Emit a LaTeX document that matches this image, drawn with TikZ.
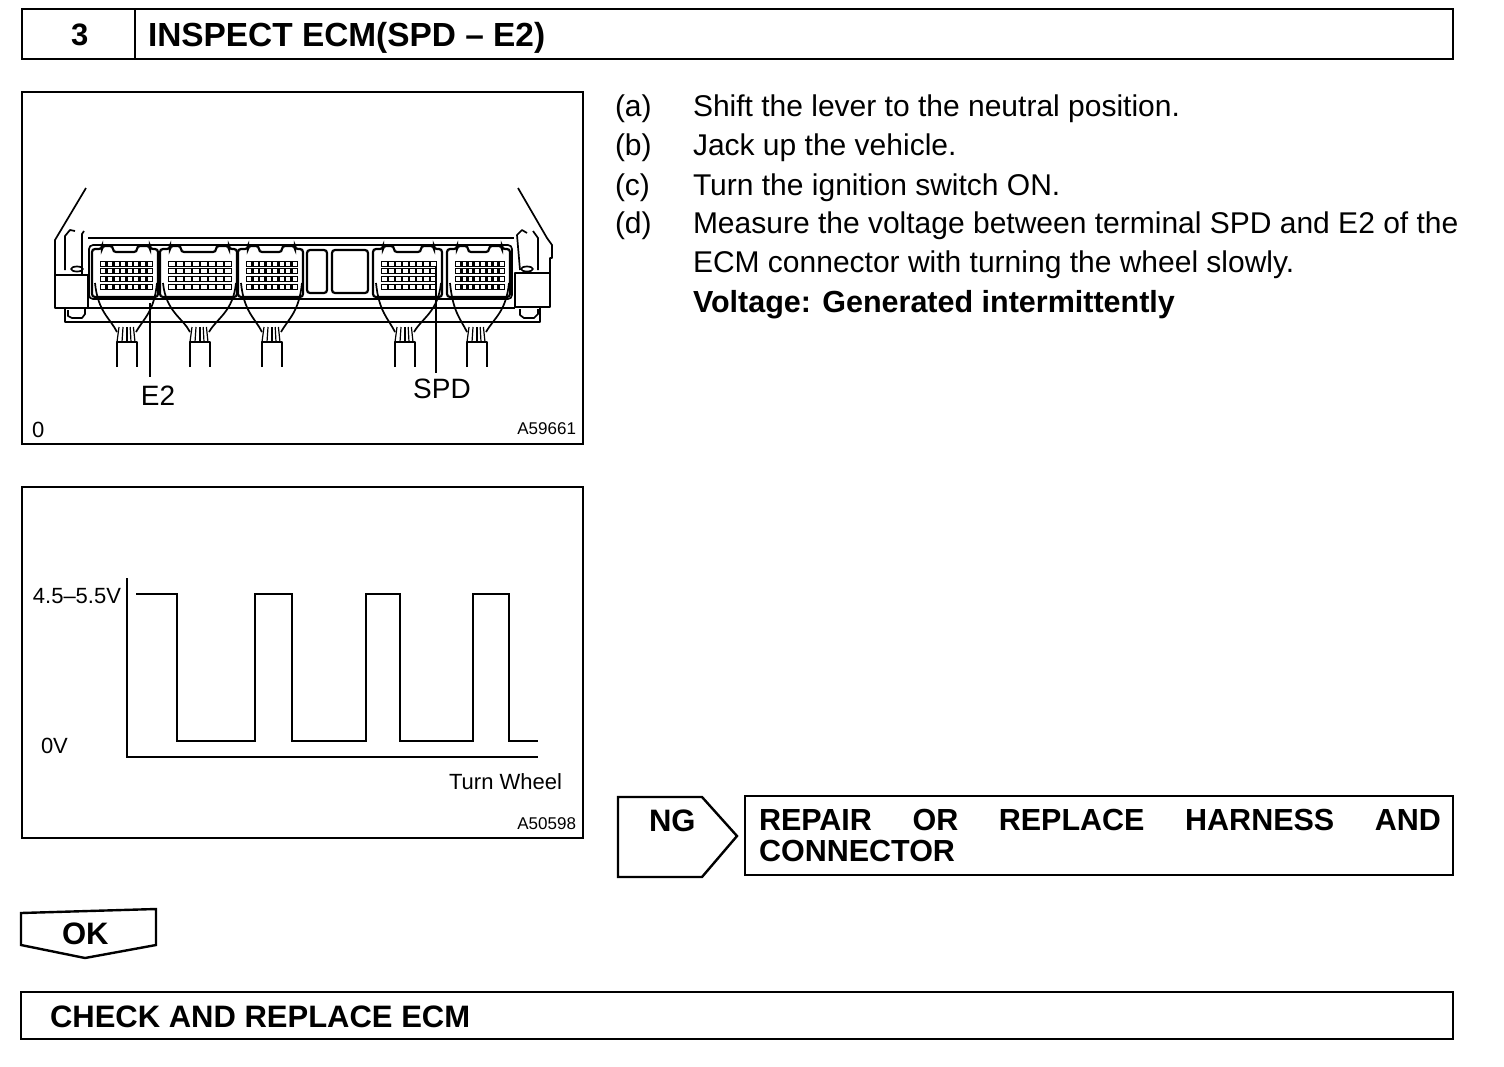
\documentclass[tikz,border=0pt]{standalone}
\usepackage{fontspec}
\setmainfont{Liberation Sans}
\tikzset{every node/.style={inner sep=0pt,outer sep=0pt}}
\tikzset{frame/.style={draw,line width=2.4pt,rectangle}}
\tikzset{body/.style={anchor=base west,font=\fontsize{30}{30}\selectfont}}
\tikzset{head/.style={anchor=base west,font=\fontsize{31}{31}\selectfont\bfseries}}
\tikzset{small/.style={anchor=base,font=\fontsize{28}{28}\selectfont}}
\tikzset{tiny/.style={anchor=base east,font=\fontsize{17}{17}\selectfont}}
\tikzset{thin line/.style={line width=1.2pt}}
\tikzset{ecm/.style={line width=1.7pt,line join=round}}

\begin{document}
\begin{tikzpicture}[x=1pt,y=-1pt]
      \useasboundingbox (0,0) rectangle (1504,1066);
      % header
      \node[frame,minimum width=113pt,minimum height=50pt,anchor=north west] (num) at (22,9) {};
      \node[frame,minimum width=1318pt,minimum height=50pt,anchor=north west] (title) at (135,9) {};
      \node[head] (n3) at (71,45) {3};
      \node[head,font=\fontsize{33.4}{33.4}\selectfont\bfseries] (t1) at (148,46) {INSPECT ECM(SPD -- E2)};

      % steps
      \foreach \y/\l/\s in {116/a/Shift the lever to the neutral position.,
                            155/b/Jack up the vehicle.,
                            195/c/Turn the ignition switch ON.,
                            233/d/Measure the voltage between terminal SPD and E2 of the}{
        \node[body] (lab\l) at (615,\y) {(\l)};
        \node[body] (step\l) at (693,\y) {\s};
      }
      \node[body] (stepd2) at (693,272) {ECM connector with turning the wheel slowly.};
      \node[body,font=\fontsize{30.5}{30.5}\selectfont\bfseries] (volt) at (693,312) {Voltage: Generated intermittently};

      % ecm panel
      \node[frame,minimum width=561pt,minimum height=352pt,anchor=north west] (ecmbox) at (22,92) {};
      \node[small] (e2) at (158,405) {E2};
      \node[small] (spd) at (442,398) {SPD};
      \node[anchor=base west,font=\fontsize{22}{22}\selectfont] (zero) at (32,437) {0};
      \node[tiny] (ida) at (576,434) {A59661};

      % left bracket
      \draw[ecm] (86,188) -- (55,240) -- (55,308) -- (88,308) -- (88,275) -- (55,275);
      \draw[ecm] (65,270) -- (65,236) -- (70,230) -- (75,231);
      \draw[ecm] (84,231) -- (82,234) -- (82,274);
      \draw[ecm] (77,269) ellipse (6 and 2.5);
      \draw[ecm] (65,308) -- (65,322) -- (540,322) -- (540,308);
      \draw[ecm] (68,310) -- (68,316) -- (72,318) -- (82,318) -- (85,314) -- (85,309);
      % right bracket
      \draw[ecm] (518,188) -- (547,238) -- (552,245) -- (552,258) -- (550,258) -- (550,273);
      \draw[ecm] (515,273) -- (550,273) -- (550,307) -- (515,307) -- cycle;
      \draw[ecm] (520,270) -- (517,235) -- (522,230) -- (527,233);
      \draw[ecm] (533,231) -- (538,238) -- (538,270);
      \draw[ecm] (527,269) ellipse (6 and 2.5);
      \draw[ecm] (520,309) -- (520,315) -- (524,318) -- (534,318) -- (538,314) -- (538,309);
      % main body
      \draw[ecm] (88,238) -- (514,238);
      \draw[ecm] (88,308) -- (515,308);
      \draw[ecm,rounded corners=4pt] (89,245) -- (512,245) -- (512,299) -- (89,299) -- cycle;

      % connectors, x from/x to/cable
      \foreach \a/\b/\c in {92/158/127,160/237/200,238/303/272,373/442/405,447/510/477}{
        \draw[line width=2.2pt,rounded corners=3pt,fill=white] (\a,297) -- (\a,249) -- (\a+10,249)
          -- (\a+10,246) -- (\a+21,246) -- (\a+21,252) -- (\b-21,252) -- (\b-21,246)
          -- (\b-8,246) -- (\b-8,249) -- (\b,249) -- (\b,297) -- cycle;
        \foreach \r/\h in {264/6,271/6,279/6,287/6}{
          \pgfmathsetmacro{\xa}{\a+8}
          \pgfmathsetmacro{\xb}{\b-5}
          \pgfmathsetmacro{\st}{(\xb-\xa)/8}
          \fill (\xa,\r-\h/2) rectangle (\xb,\r+\h/2);
          \foreach \k in {0,...,7}{
            \fill[white] (\xa+\k*\st+1.3,\r-\h/2+1.3) rectangle ++(\st-2.6,\h-2.6);
          }
        }
        \draw[ecm] (\a+3,283) .. controls (\a+6,312) and (\c-17,318) .. (\c-10,332);
        \draw[ecm] (\b-1,283) .. controls (\b-4,312) and (\c+17,318) .. (\c+9,332);
        \foreach \d in {-10,-5,0,4,8}{
          \draw[thin line] (\c+\d,342) -- (\c+\d*0.8,327);
        }
        \draw[ecm] (\c-10,367) -- (\c-10,342) -- (\c+10,342) -- (\c+10,367);
      }
      % blank blocks in the middle
      \draw[line width=2.2pt,rounded corners=3pt] (307,250) rectangle (327,293);
      \draw[line width=2.2pt,rounded corners=3pt] (332,250) rectangle (368,293);

      \coordinate (e2a) at (150,303);
      \coordinate (e2b) at (150,377);
      \coordinate (spda) at (436,267);
      \coordinate (spdb) at (436,373);
      \draw[thin line] (e2a) -- (e2b);
      \draw[thin line] (spda) -- (spdb);

      % graph panel
      \node[frame,minimum width=561pt,minimum height=351pt,anchor=north west] (graphbox) at (22,487) {};
      \node[anchor=base east,font=\fontsize{22}{22}\selectfont] (hi) at (121,603) {4.5--5.5V};
      \node[anchor=base west,font=\fontsize{22}{22}\selectfont] (lo) at (41,753) {0V};
      \node[anchor=base east,font=\fontsize{22}{22}\selectfont] (wheel) at (562,789) {Turn Wheel};
      \node[tiny] (idb) at (576,829) {A50598};
      \coordinate (axt) at (127,578);
      \coordinate (axo) at (127,757);
      \coordinate (axr) at (538,757);
      \draw[line width=1.5pt] (axt) -- (axo) -- (axr);
      \draw[line width=2pt] (136,594) -- (177,594) -- (177,741) -- (255,741) -- (255,594)
        -- (292,594) -- (292,741) -- (366,741) -- (366,594) -- (400,594) -- (400,741)
        -- (473,741) -- (473,594) -- (509,594) -- (509,741) -- (538,741);

      % ng
      \coordinate (ng1) at (618,797);
      \coordinate (ng2) at (702,797);
      \coordinate (ng3) at (737,836);
      \coordinate (ng4) at (702,877);
      \coordinate (ng5) at (618,877);
      \draw[line width=2.4pt] (ng1) -- (ng2) -- (ng3) -- (ng4) -- (ng5) -- cycle;
      \node[head] (ng) at (649,831) {NG};
      \node[frame,minimum width=708pt,minimum height=79pt,anchor=north west] (repair) at (745,796) {};
      \node[head,anchor=north west,align=left,font=\fontsize{30.5}{31}\selectfont\bfseries] (rtext) at (759,809)
        {\hbox to 682pt{REPAIR\hfill OR\hfill REPLACE\hfill HARNESS\hfill AND}\\CONNECTOR};

      % ok
      \coordinate (ok1) at (21,913);
      \coordinate (ok2) at (156,909);
      \coordinate (ok3) at (156,945);
      \coordinate (ok4) at (85,958);
      \coordinate (ok5) at (21,945);
      \draw[line width=2.4pt] (ok1) -- (ok2) -- (ok3) -- (ok4) -- (ok5) -- cycle;
      \node[head] (ok) at (62,944) {OK};

      \node[frame,minimum width=1432pt,minimum height=47pt,anchor=north west] (check) at (21,992) {};
      \node[head] (ctext) at (50,1027) {CHECK AND REPLACE ECM};
\end{tikzpicture}
\end{document}
